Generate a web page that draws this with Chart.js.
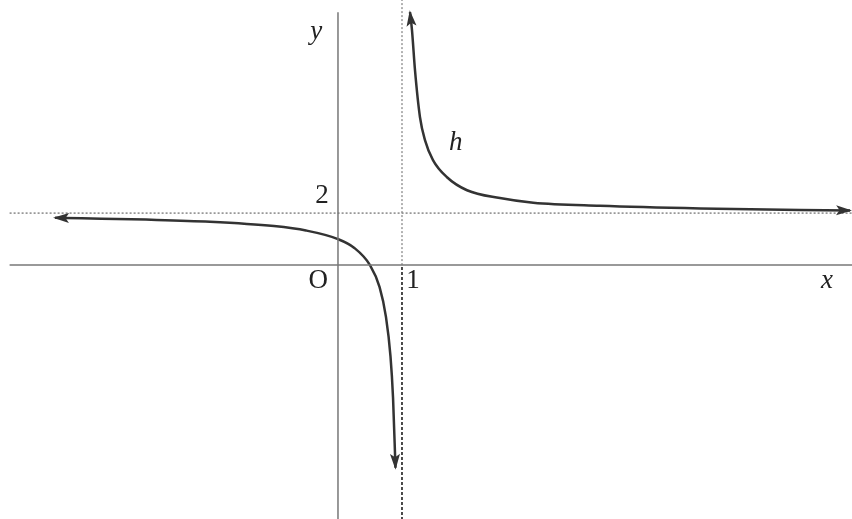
<!DOCTYPE html>
<html>
<head>
<meta charset="utf-8">
<script src="https://cdn.jsdelivr.net/npm/chart.js@4/dist/chart.umd.min.js"></script>
<style>
  html, body { margin: 0; padding: 0; background: #fff; }
  #wrap { width: 852px; height: 519px; position: relative; }
</style>
</head>
<body>
<div id="wrap"><canvas id="graph"></canvas></div>
<script>
// Left branch of h
const leftX = [-4.42, -4, -3, -2, -1, -0.5, 0, 0.25, 0.5, 0.65, 0.75, 0.82, 0.86, 0.898];
const leftY = [1.82, 1.8, 1.75, 1.67, 1.5, 1.33, 1.0, 0.67, 0.0, -0.85, -2.0, -3.5, -5.1, -7.8];

// Right branch of h
const rightX = [1.125, 1.156, 1.203, 1.281, 1.359, 1.484, 1.703, 2.016, 2.53, 3.05, 4.09, 5.66, 8.0];
const rightY = [9.73, 9.04, 7.5, 5.69, 4.81, 4.04, 3.38, 2.88, 2.58, 2.4, 2.28, 2.18, 2.1];

// Asymptotes and axes
const asymptoteY = 2;
const asymptoteX = 1;
const axisXRange = [-5.13, 8.1];
const axisYRange = [-10, 9.73];

// Text labels: [text, x, y, italic]
const labels = [
  ["y", -0.34, 8.96, true],
  ["h", 1.84, 4.7, true],
  ["2", -0.25, 2.65, false],
  ["O", -0.31, -0.62, false],
  ["1", 1.17, -0.62, false],
  ["x", 7.64, -0.62, true],
];

function toPoints(xs, ys) {
  return xs.map((x, i) => ({ x: x, y: ys[i] }));
}

// Arrowheads on the curve ends
const arrowPlugin = {
  id: "arrows",
  afterDatasetsDraw(chart) {
    const ctx = chart.ctx;
    const sx = chart.scales.x;
    const sy = chart.scales.y;
    const ends = [];
    [[leftX, leftY], [rightX, rightY]].forEach(([xs, ys]) => {
      const n = xs.length;
      ends.push([xs[1], ys[1], xs[0], ys[0]]);
      ends.push([xs[n - 2], ys[n - 2], xs[n - 1], ys[n - 1]]);
    });
    ctx.save();
    ctx.fillStyle = "#333";
    ends.forEach((e) => {
      const x0 = sx.getPixelForValue(e[0]);
      const y0 = sy.getPixelForValue(e[1]);
      const x1 = sx.getPixelForValue(e[2]);
      const y1 = sy.getPixelForValue(e[3]);
      const a = Math.atan2(y1 - y0, x1 - x0);
      const len = 14, w = 5;
      ctx.beginPath();
      ctx.moveTo(x1 + Math.cos(a) * 2, y1 + Math.sin(a) * 2);
      ctx.lineTo(x1 - Math.cos(a) * len - Math.sin(a) * w, y1 - Math.sin(a) * len + Math.cos(a) * w);
      ctx.lineTo(x1 - Math.cos(a) * len * 0.75, y1 - Math.sin(a) * len * 0.75);
      ctx.lineTo(x1 - Math.cos(a) * len + Math.sin(a) * w, y1 - Math.sin(a) * len - Math.cos(a) * w);
      ctx.closePath();
      ctx.fill();
    });
    ctx.restore();
  },
};

// Text labels at data positions
const labelPlugin = {
  id: "labels",
  afterDraw(chart) {
    const ctx = chart.ctx;
    const sx = chart.scales.x;
    const sy = chart.scales.y;
    ctx.save();
    ctx.fillStyle = "#222";
    ctx.textAlign = "center";
    ctx.textBaseline = "middle";
    labels.forEach((l) => {
      ctx.font = (l[3] ? "italic " : "") + "27px 'Liberation Serif', serif";
      ctx.fillText(l[0], sx.getPixelForValue(l[1]), sy.getPixelForValue(l[2]));
    });
    ctx.restore();
  },
};

new Chart(document.getElementById("graph").getContext("2d"), {
  type: "scatter",
  data: {
    datasets: [
      {
        label: "x axis",
        data: [{ x: axisXRange[0], y: 0 }, { x: axisXRange[1], y: 0 }],
        showLine: true,
        borderColor: "#777",
        borderWidth: 1.5,
        pointRadius: 0,
      },
      {
        label: "y axis",
        data: [{ x: 0, y: axisYRange[0] }, { x: 0, y: axisYRange[1] }],
        showLine: true,
        borderColor: "#777",
        borderWidth: 1.5,
        pointRadius: 0,
      },
      {
        label: "y = 2",
        data: [{ x: axisXRange[0], y: asymptoteY }, { x: axisXRange[1], y: asymptoteY }],
        showLine: true,
        borderColor: "#888",
        borderWidth: 1.5,
        borderDash: [2, 2],
        pointRadius: 0,
      },
      {
        label: "x = 1 upper",
        data: [{ x: asymptoteX, y: 0 }, { x: asymptoteX, y: 10.2 }],
        showLine: true,
        borderColor: "#999",
        borderWidth: 1.5,
        borderDash: [2, 2],
        pointRadius: 0,
      },
      {
        label: "x = 1 lower",
        data: [{ x: asymptoteX, y: axisYRange[0] }, { x: asymptoteX, y: 0 }],
        showLine: true,
        borderColor: "#111",
        borderWidth: 1.5,
        borderDash: [3, 2],
        pointRadius: 0,
      },
      {
        label: "h left",
        data: toPoints(leftX, leftY),
        showLine: true,
        borderColor: "#333",
        borderWidth: 2.5,
        cubicInterpolationMode: "monotone",
        pointRadius: 0,
      },
      {
        label: "h right",
        data: toPoints(rightX, rightY),
        showLine: true,
        borderColor: "#333",
        borderWidth: 2.5,
        cubicInterpolationMode: "monotone",
        pointRadius: 0,
      },
    ],
  },
  options: {
    responsive: true,
    maintainAspectRatio: false,
    animation: false,
    layout: { padding: 0 },
    plugins: {
      legend: { display: false },
      tooltip: { enabled: false },
    },
    scales: {
      x: { type: "linear", min: -5.28, max: 8.03, display: false },
      y: { type: "linear", min: -9.77, max: 10.2, display: false },
    },
  },
  plugins: [arrowPlugin, labelPlugin],
});
</script>
</body>
</html>
